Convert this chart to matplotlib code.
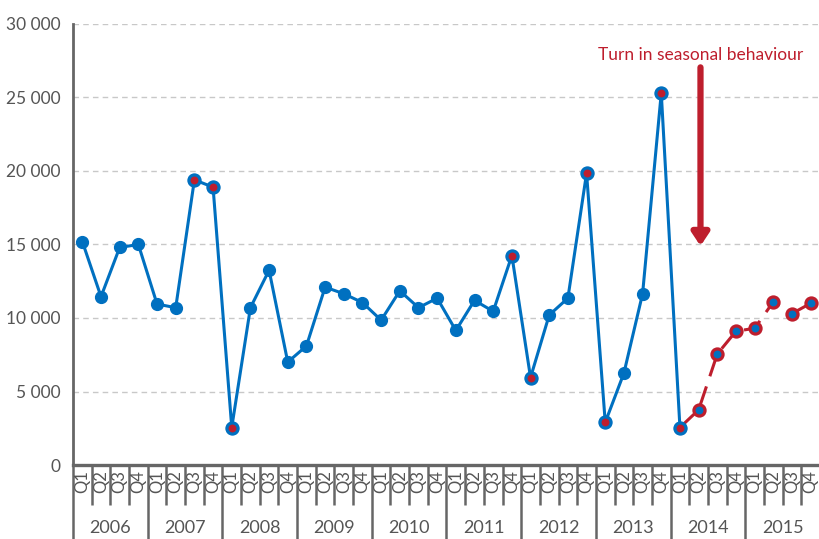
import matplotlib.pyplot as plt
import matplotlib.transforms as mtransforms
import numpy as np

plt.rcParams['font.family'] = ['Lato', 'DejaVu Sans']

# Dados
anos = ['2006', '2007', '2008', '2009', '2010', '2011', '2012', '2013', '2014', '2015']
trimestres = ['Q1', 'Q2', 'Q3', 'Q4']

# 2006 Q1 .. 2014 Q1
observado = [15200, 11450, 14800, 15000,
             10950, 10700, 19400, 18900,
             2550, 10700, 13250, 7000,
             8100, 12100, 11650, 11050,
             9850, 11850, 10700, 11350,
             9150, 11200, 10450, 14250,
             5950, 10200, 11350, 19850,
             2900, 6250, 11650, 25300,
             2550]
# pontos com centro vermelho (índices na série observada)
destaque = [6, 7, 8, 23, 24, 27, 28, 31, 32]

# 2014 Q1 .. 2015 Q4 (começa no último ponto observado)
previsto = [2550, 3750, 7550, 9100, 9300, 11100, 10300, 11000]

azul = '#0070c0'
vermelho = '#be1e2d'
cinza = '#666666'

fig = plt.figure(figsize=(8.2, 5.39), dpi=100)
ax = fig.add_axes([73 / 820, 74 / 539, 747 / 820, 441 / 539])

x_obs = np.arange(len(observado))
x_prev = np.arange(len(observado) - 1, len(observado) - 1 + len(previsto))

# Linha observada
ax.plot(x_obs, observado, '-o', color=azul, lw=2.2, markersize=8.5,
        markerfacecolor=azul, markeredgecolor=azul, zorder=3)

# Linha prevista (tracejada)
ax.plot(x_prev, previsto, color=vermelho, lw=2.2, dashes=(6.5, 3.5), zorder=2)
ax.plot(x_prev[1:], previsto[1:], 'o', markersize=8, markerfacecolor=azul,
        markeredgecolor=vermelho, markeredgewidth=2.3, zorder=4)

# Destaques
ax.plot(x_obs[destaque], np.array(observado)[destaque], 'o', markersize=8,
        markerfacecolor=vermelho, markeredgecolor=azul, markeredgewidth=2.3, zorder=5)

# Seta e texto
ax.annotate('', xy=(33.1, 14900), xytext=(33.1, 27050),
            arrowprops=dict(arrowstyle='-|>,head_width=0.5,head_length=0.75',
                            color=vermelho, lw=4.5, shrinkA=0, shrinkB=0))
ax.text(33.1, 27900, 'Turn in seasonal behaviour', color=vermelho,
        fontsize=12.5, ha='center', va='center')

# Eixos
ax.set_xlim(-0.5, 39.15)
ax.set_ylim(0, 30000)
ax.set_yticks(np.arange(0, 30001, 5000))
ax.set_yticklabels([f'{v:,}'.replace(',', ' ') for v in range(0, 30001, 5000)],
                   fontsize=12.5, color='#555555')
ax.tick_params(axis='y', length=0, pad=9)

ax.yaxis.grid(True, linestyle=(0, (4, 3)), color='#c8c8c8', lw=1)
ax.set_axisbelow(True)

for s in ['top', 'right']:
    ax.spines[s].set_visible(False)
ax.spines['left'].set_color(cinza)
ax.spines['left'].set_linewidth(2)
ax.spines['bottom'].set_color(cinza)
ax.spines['bottom'].set_linewidth(2.4)

# Separadores de ano (major) e de trimestre (minor)
ax.set_xticks(np.arange(-0.5, 40, 4))
ax.set_xticks(np.arange(-0.5, 40, 1), minor=True)
ax.tick_params(axis='x', which='major', length=54, width=1.8, color=cinza,
               labelbottom=False, direction='out')
ax.tick_params(axis='x', which='minor', length=29, width=1.8, color=cinza,
               labelbottom=False, direction='out')

trans = mtransforms.blended_transform_factory(ax.transData, ax.transAxes)
for i, ano in enumerate(anos):
    for j, q in enumerate(trimestres):
        ax.text(i * 4 + j, -0.038, q, transform=trans, rotation=90,
                ha='center', va='center', fontsize=12, color='#555555')
    ax.text(i * 4 + 1.5, -0.143, ano, transform=trans, ha='center', va='center',
            fontsize=13, color='#555555')

fig.savefig('out.png', dpi=100)
